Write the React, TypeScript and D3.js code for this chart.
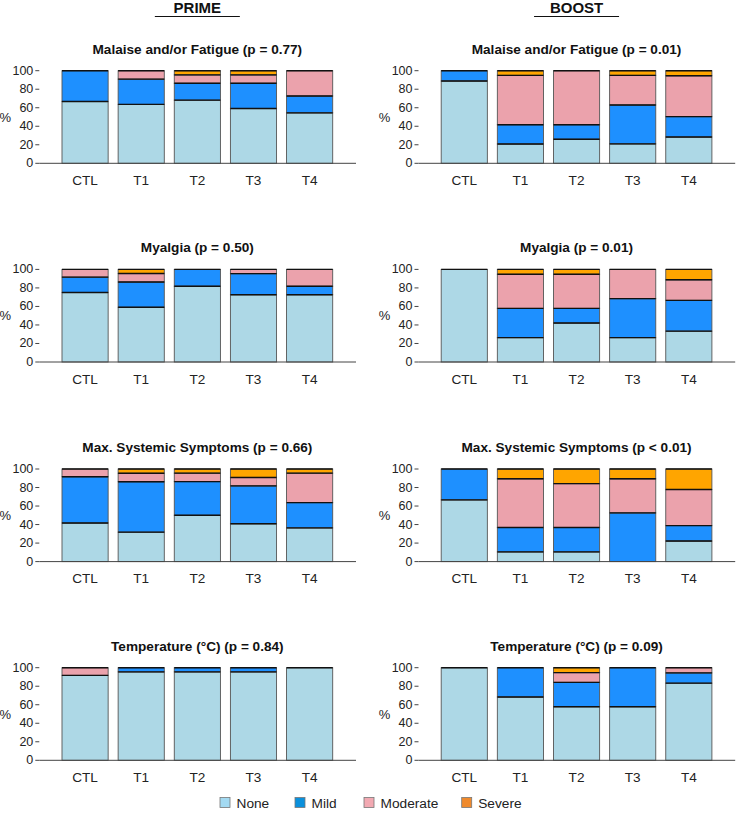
import React from "react";
import * as d3 from "d3";

const categories = ["CTL", "T1", "T2", "T3", "T4"];
const severities = ["None", "Mild", "Moderate", "Severe"];
const yTicks = [0, 20, 40, 60, 80, 100];
const columnTitles = ["PRIME", "BOOST"];

// rows: categories; columns: None, Mild, Moderate, Severe (%)
const primeMalaise = [[66.7, 33.3, 0, 0], [63.6, 27.3, 9.1, 0], [68.2, 18.2, 9.1, 4.5], [59.1, 27.3, 9.1, 4.5], [54.5, 18.2, 27.3, 0]];
const boostMalaise = [[88.9, 11.1, 0, 0], [20.9, 20.8, 53.3, 5], [26, 15.7, 58.3, 0], [21, 42, 32, 5], [28.4, 22, 44.2, 5.4]];
const primeMyalgia = [[75, 16.7, 8.3, 0], [59.1, 27.3, 9.1, 4.5], [81.8, 18.2, 0, 0], [72.7, 22.7, 4.6, 0], [72.7, 9.1, 18.2, 0]];
const boostMyalgia = [[100, 0, 0, 0], [26.3, 31.6, 36.8, 5.3], [42.1, 15.8, 36.8, 5.3], [26.3, 42.1, 31.6, 0], [33.3, 33.3, 22.2, 11.2]];
const primeMax = [[41.7, 50, 8.3, 0], [31.8, 54.5, 9.1, 4.6], [50, 36.4, 9.1, 4.5], [40.9, 40.9, 9.1, 9.1], [36.4, 27.3, 31.8, 4.5]];
const boostMax = [[66.7, 33.3, 0, 0], [10.5, 26.3, 52.6, 10.6], [10.5, 26.3, 47.4, 15.8], [0, 52.6, 36.8, 10.6], [22.2, 16.7, 38.9, 22.2]];
const primeTemp = [[91.7, 0, 8.3, 0], [95.5, 4.5, 0, 0], [95.5, 4.5, 0, 0], [95.5, 4.5, 0, 0], [100, 0, 0, 0]];
const boostTemp = [[100, 0, 0, 0], [68.4, 31.6, 0, 0], [57.9, 26.3, 10.5, 5.3], [57.9, 42.1, 0, 0], [83.3, 11.1, 5.6, 0]];

const rowTitles = [
  ["Malaise and/or Fatigue (p = 0.77)", "Malaise and/or Fatigue (p = 0.01)"],
  ["Myalgia (p = 0.50)", "Myalgia (p = 0.01)"],
  ["Max. Systemic Symptoms (p = 0.66)", "Max. Systemic Symptoms (p < 0.01)"],
  ["Temperature (°C) (p = 0.84)", "Temperature (°C) (p = 0.09)"],
];
const panelData = [
  [primeMalaise, boostMalaise],
  [primeMyalgia, boostMyalgia],
  [primeMax, boostMax],
  [primeTemp, boostTemp],
];

const barColors = ["#add8e6", "#1e90ff", "#eba2ac", "#ffa500"];
const legendColors = ["#a3daf2", "#0a90dc", "#f2a9b2", "#f08a2c"];

const FONT = "'Liberation Sans', Arial, sans-serif";
const panelTops = [70.7, 269.4, 469, 667.7];
const panelH = 92.6;
const colOffsets = [0, 379.2];
const axisX0 = 39.3;
const axisX1 = 356;
const barRange: [number, number] = [57, 337.7];

function Panel({ data, title, top, dx }: { data: number[][]; title: string; top: number; dx: number }) {
  const y = d3.scaleLinear().domain([0, 100]).range([top + panelH, top]);
  const x = d3.scaleBand<string>().domain(categories).range([barRange[0] + dx, barRange[1] + dx]).paddingInner(0.178).paddingOuter(0.089);
  const rows = data.map((r, i) => {
    const o: any = { cat: categories[i] };
    severities.forEach((s, j) => (o[s] = r[j]));
    return o;
  });
  const series = d3.stack<any>().keys(severities)(rows);
  const bw = x.bandwidth();
  const cx = (barRange[0] + barRange[1]) / 2 + dx;
  return (
    <g>
      <text x={cx} y={top - 21.5} textAnchor="middle" dominantBaseline="central" fontFamily={FONT} fontWeight="bold" fontSize={13.6} fill="#111">{title}</text>
      {series.map((s, si) =>
        s.map((d, ci) => {
          const h = y(d[0]) - y(d[1]);
          if (h <= 0.01) return null;
          return (
            <rect key={`${si}-${ci}`} x={x(categories[ci])!} y={y(d[1])} width={bw} height={h} fill={barColors[si]} stroke="#555" strokeWidth={0.9} />
          );
        })
      )}
      {series.map((s, si) =>
        s.map((d, ci) => {
          const h = y(d[0]) - y(d[1]);
          if (h <= 0.01) return null;
          return (
            <line key={`l${si}-${ci}`} x1={x(categories[ci])!} x2={x(categories[ci])! + bw} y1={y(d[1])} y2={y(d[1])} stroke="#111" strokeWidth={1.4} />
          );
        })
      )}
      <line x1={axisX0 + dx} x2={axisX1 + dx} y1={y(0)} y2={y(0)} stroke="#444" strokeWidth={1} />
      {yTicks.map((t) => (
        <g key={t}>
          <line x1={axisX0 + dx - 4} x2={axisX0 + dx} y1={y(t)} y2={y(t)} stroke="#444" strokeWidth={1} />
          <text x={axisX0 + dx - 6} y={y(t)} textAnchor="end" dominantBaseline="central" fontFamily={FONT} fontSize={12.5} fill="#222">{t}</text>
        </g>
      ))}
      <text x={axisX0 + dx - 34} y={top + panelH / 2} textAnchor="middle" dominantBaseline="central" fontFamily={FONT} fontSize={13} fill="#222">%</text>
      {categories.map((c) => (
        <text key={c} x={x(c)! + bw / 2} y={y(0) + 17} textAnchor="middle" dominantBaseline="central" fontFamily={FONT} fontSize={13.6} fill="#222">{c}</text>
      ))}
    </g>
  );
}

export default function App() {
  const legendX = [220, 295, 364, 461.7];
  return (
    <svg width={736} height={819} style={{ position: "absolute", left: 0, top: 0 }}>
      <rect width={736} height={819} fill="#fff" />
      {columnTitles.map((t, i) => {
        const cx = (barRange[0] + barRange[1]) / 2 + colOffsets[i];
        return (
          <g key={t}>
            <text x={cx} y={7.5} textAnchor="middle" dominantBaseline="central" fontFamily={FONT} fontWeight="bold" fontSize={15} fill="#111">{t}</text>
            <line x1={cx - 42.5} x2={cx + 42.5} y1={16.5} y2={16.5} stroke="#111" strokeWidth={1.2} />
          </g>
        );
      })}
      {panelData.map((row, ri) =>
        row.map((data, ci) => (
          <Panel key={`${ri}-${ci}`} data={data} title={rowTitles[ri][ci]} top={panelTops[ri]} dx={colOffsets[ci]} />
        ))
      )}
      {severities.map((s, i) => (
        <g key={s}>
          <rect x={legendX[i]} y={797.5} width={10} height={10} fill={legendColors[i]} stroke="#777" strokeWidth={0.8} />
          <text x={legendX[i] + 16.5} y={803} dominantBaseline="central" fontFamily={FONT} fontSize={13.7} fill="#222">{s}</text>
        </g>
      ))}
    </svg>
  );
}
